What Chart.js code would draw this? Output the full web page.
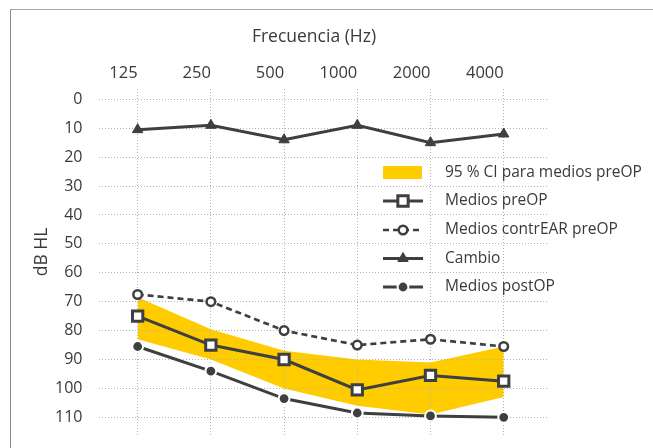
<!DOCTYPE html>
<html lang="es">
<head>
  <meta charset="UTF-8">
  <title>Audiograma medio</title>
  <style>
    html, body {
      margin: 0;
      padding: 0;
      background: #fff;
      overflow: hidden;
    }
    .frame {
      position: absolute;
      left: 10px;
      top: 9px;
      width: 700px;
      height: 500px;
      border-left: 1.5px solid #8e8e8e;
      border-top: 1.5px solid #a6a6a6;
    }
    .wrap {
      position: absolute;
      left: 0;
      top: 0;
      width: 653px;
      height: 448px;
    }
  </style>
</head>
<body>
  <div class="frame"></div>
  <div class="wrap"><canvas id="chart"></canvas></div>

  <script src="https://cdn.jsdelivr.net/npm/chart.js@4.4.1/dist/chart.umd.min.js"></script>
  <script>
    // values (dB HL, y axis reversed)
    const freqLabels = ['125', '250', '500', '1000', '2000', '4000'];
    const dbTicks = [0, 10, 20, 30, 40, 50, 60, 70, 80, 90, 100, 110];
    const preOP = [75, 85, 90, 100.5, 95.5, 97.5];
    const contraPreOP = [67.5, 70, 80, 85, 83, 85.5];
    const cambio = [10.5, 9, 14, 9, 15, 12];
    const postOP = [85.5, 94, 103.5, 108.5, 109.5, 110];
    const ciTop = [68.5, 79.5, 87, 90, 91, 85.5];
    const ciBottom = [83, 90, 100, 106, 109, 103];
    const legendLabels = ['95 % CI para medios preOP', 'Medios preOP', 'Medios contrEAR preOP', 'Cambio', 'Medios postOP'];

    const DARK = '#3d3f41';
    const TEXT = '#3a3a3a';
    const GRID = '#b2b2b2';
    const YELLOW = '#ffcc00';
    const FONT = '"Open Sans", "Noto Sans", sans-serif';

    function toPoints(arr) {
      return arr.map((v, i) => ({ x: i, y: v }));
    }

    function drawMarker(ctx, style, x, y, r, fill, stroke, lw) {
      ctx.save();
      ctx.fillStyle = fill;
      ctx.strokeStyle = stroke;
      ctx.lineWidth = lw;
      ctx.setLineDash([]);
      ctx.beginPath();
      if (style === 'rect') {
        const s = r * Math.SQRT1_2;
        ctx.rect(x - s, y - s, 2 * s, 2 * s);
      } else if (style === 'triangle') {
        ctx.moveTo(x, y - r);
        ctx.lineTo(x + 0.866 * r, y + 0.5 * r);
        ctx.lineTo(x - 0.866 * r, y + 0.5 * r);
        ctx.closePath();
      } else {
        ctx.arc(x, y, r, 0, Math.PI * 2);
      }
      ctx.fill();
      if (lw) ctx.stroke();
      ctx.restore();
    }

    // dotted grid shows on top of the yellow band, so draw it again after the band
    const gridOverBand = {
      id: 'gridOverBand',
      afterDatasetDraw(chart, args) {
        if (args.index !== 5) return;
        chart.scales.x.drawGrid(chart.chartArea);
        chart.scales.y.drawGrid(chart.chartArea);
      }
    };

    const titlesAndLegend = {
      id: 'titlesAndLegend',
      afterDraw(chart) {
        const ctx = chart.ctx;
        ctx.save();
        ctx.fillStyle = TEXT;
        ctx.textBaseline = 'middle';

        ctx.font = '17.5px ' + FONT;
        ctx.textAlign = 'center';
        ctx.fillText('Frecuencia (Hz)', 314, 37);

        ctx.save();
        ctx.translate(42, 252);
        ctx.rotate(-Math.PI / 2);
        ctx.fillText('dB HL', 0, 0);
        ctx.restore();

        const rows = [172.5, 201, 230, 258.5, 287];
        const x0 = 383, x1 = 423, xm = 403;
        const ds = chart.data.datasets;

        ctx.fillStyle = YELLOW;
        ctx.fillRect(x0, rows[0] - 6.5, x1 - x0 - 1, 13);

        const legendSets = [ds[0], ds[1], ds[2], ds[3]];
        legendSets.forEach((d, i) => {
          const y = rows[i + 1];
          ctx.save();
          ctx.strokeStyle = DARK;
          ctx.lineWidth = d.borderWidth;
          ctx.setLineDash(d.borderDash || []);
          ctx.beginPath();
          ctx.moveTo(x0, y);
          ctx.lineTo(x1, y);
          ctx.stroke();
          ctx.restore();
          drawMarker(ctx, d.pointStyle, xm, y, d.pointRadius, d.pointBackgroundColor, d.pointBorderColor, d.pointBorderWidth);
        });

        ctx.fillStyle = TEXT;
        ctx.textAlign = 'left';
        ctx.font = '15.5px ' + FONT;
        legendLabels.forEach((t, i) => ctx.fillText(t, 445, rows[i]));
        ctx.restore();
      }
    };

    new Chart(document.getElementById('chart'), {
      type: 'line',
      data: {
        datasets: [
          {
            label: legendLabels[1],
            data: toPoints(preOP),
            borderColor: DARK,
            borderWidth: 3,
            pointStyle: 'rect',
            pointRadius: 7.3,
            pointBorderWidth: 3,
            pointBackgroundColor: '#ffffff',
            pointBorderColor: DARK
          },
          {
            label: legendLabels[2],
            data: toPoints(contraPreOP),
            borderColor: DARK,
            borderWidth: 2.7,
            borderDash: [6, 4],
            pointStyle: 'circle',
            pointRadius: 4.3,
            pointBorderWidth: 2.5,
            pointBackgroundColor: '#ffffff',
            pointBorderColor: DARK
          },
          {
            label: legendLabels[3],
            data: toPoints(cambio),
            borderColor: DARK,
            borderWidth: 3,
            pointStyle: 'triangle',
            pointRadius: 6,
            pointBorderWidth: 1,
            pointBackgroundColor: DARK,
            pointBorderColor: DARK
          },
          {
            label: legendLabels[4],
            data: toPoints(postOP),
            borderColor: DARK,
            borderWidth: 3,
            pointStyle: 'circle',
            pointRadius: 5.4,
            pointBorderWidth: 2,
            pointBackgroundColor: DARK,
            pointBorderColor: '#ffffff'
          },
          {
            label: 'CI top',
            data: toPoints(ciTop),
            borderWidth: 0,
            borderColor: 'transparent',
            pointRadius: 0,
            fill: false
          },
          {
            label: legendLabels[0],
            data: toPoints(ciBottom),
            borderWidth: 0,
            borderColor: 'transparent',
            backgroundColor: YELLOW,
            pointRadius: 0,
            fill: '-1'
          }
        ]
      },
      options: {
        responsive: true,
        maintainAspectRatio: false,
        animation: false,
        events: [],
        layout: {
          padding: { left: 0, top: 0, right: 105, bottom: 11 }
        },
        elements: {
          line: { tension: 0 }
        },
        plugins: {
          legend: { display: false },
          tooltip: { enabled: false },
          filler: { propagate: false }
        },
        scales: {
          x: {
            type: 'linear',
            position: 'top',
            min: -0.528,
            max: 5.605,
            afterBuildTicks: s => { s.ticks = freqLabels.map((_, i) => ({ value: i })); },
            afterFit: s => { s.height = 89; s.paddingLeft = 0; s.paddingRight = 0; },
            grid: { color: GRID, lineWidth: 1, drawTicks: false },
            border: { display: false, dash: [1, 2] },
            ticks: {
              align: 'end',
              padding: 6,
              maxRotation: 0,
              autoSkip: false,
              color: TEXT,
              font: { family: FONT, size: 16.5 },
              callback: v => freqLabels[v]
            }
          },
          y: {
            type: 'linear',
            reverse: true,
            min: -3.56,
            max: 116.8,
            afterBuildTicks: s => { s.ticks = dbTicks.map(v => ({ value: v })); },
            afterFit: s => { s.width = 99; s.paddingTop = 0; s.paddingBottom = 0; },
            grid: { color: GRID, lineWidth: 1, drawTicks: false },
            border: { display: false, dash: [1, 2] },
            ticks: {
              padding: 16.5,
              color: TEXT,
              font: { family: FONT, size: 16 },
              callback: v => v
            }
          }
        }
      },
      plugins: [gridOverBand, titlesAndLegend]
    });
  </script>
</body>
</html>
